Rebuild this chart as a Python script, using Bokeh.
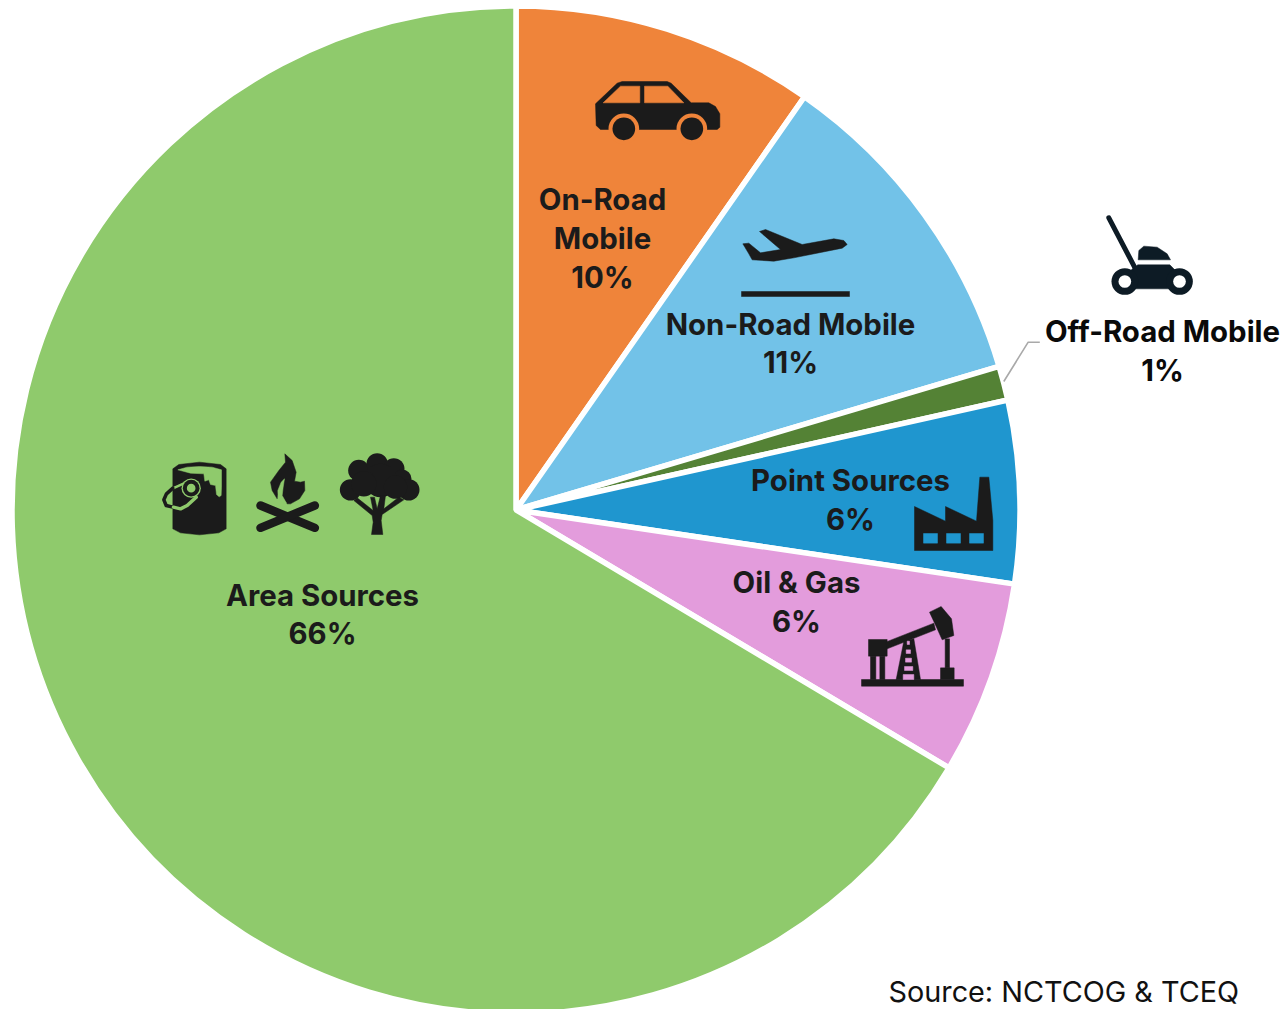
from math import pi
import numpy as np
from bokeh.plotting import figure
from bokeh.models import Range1d, ColumnDataSource
from bokeh.core.properties import value
from bokeh.embed import file_html
from bokeh.resources import INLINE

# ---------- data ----------
categories = ["On-Road Mobile", "Non-Road Mobile", "Off-Road Mobile", "Point Sources", "Oil & Gas", "Area Sources"]
shares = [9.7, 10.7, 1.1, 5.85, 6.2, 66.45]
share_labels = ["10%", "11%", "1%", "6%", "6%", "66%"]
colors = ["#EF843A", "#72C2E8", "#548235", "#1F96CF", "#E39CDC", "#8FCA6C"]
source_text = "Source: NCTCOG & TCEQ"

# ---------- frame: coordinates below are the picture's pixels ----------
W, H = 1284, 1009
X = lambda px: px
Y = lambda py: H - py

p = figure(width=W, height=H, output_backend="svg", toolbar_location=None,
           x_range=Range1d(0, W), y_range=Range1d(0, H),
           x_axis_type=None, y_axis_type=None, min_border=0,
           outline_line_color=None, background_fill_color="white")
p.grid.visible = False

# ---------- pie ----------
cx, cy, radius = 515.5, 509.5, 504
ends = np.cumsum(shares) / sum(shares) * 2 * pi
starts = np.concatenate(([0], ends[:-1]))
src = ColumnDataSource(dict(
    category=categories, color=colors,
    start=pi / 2 - starts, end=pi / 2 - ends,
))
p.wedge(x=X(cx), y=Y(cy), radius=radius, start_angle="start", end_angle="end",
        direction="clock", fill_color="color", line_color="white", line_width=5.5, source=src)

# leader line
p.line([X(1003.3), X(1027.7), X(1039.3)], [Y(381), Y(341.7), Y(341.7)], line_color="#A9A9A9", line_width=1.6)

# ---------- icons ----------
DARK = "#1B1B1B"
def zp(pts, ox, oy):
    return [X(ox + a / 3) for a, b in pts], [Y(oy + b / 3) for a, b in pts]
def poly(pts, ox, oy, color=DARK):
    xs, ys = zp(pts, ox, oy)
    p.patch(xs, ys, fill_color=color, line_color=color, line_width=0.5)
def rect(x0, y0, x1, y1, ox, oy, color=DARK):
    poly([(x0, y0), (x1, y0), (x1, y1), (x0, y1)], ox, oy, color)
def disc(a, b, r, ox, oy, color=DARK):
    p.circle(x=[X(ox + a / 3)], y=[Y(oy + b / 3)], radius=r / 3, fill_color=color, line_color=None)
def stroke(pts, w, ox, oy, color=DARK):
    xs, ys = zp(pts, ox, oy)
    p.line(xs, ys, line_color=color, line_width=w, line_cap="round", line_join="round")

# paint can
o = (150, 440); GREEN = colors[5]
poly([(67,85),(85,72),(147,65),(210,72),(227,85),(227,265),(205,277),(147,283),(90,277),(67,265)], *o)
poly([(82,88),(110,80),(147,78),(185,80),(213,88),(213,140),(212,165),(206,169),(198,162),(195,135),(180,132),(175,118),(163,122),(160,100),(120,98)], *o, GREEN)
stroke([(102,128),(69,143)], 2.5, *o, GREEN)
stroke([(67,143),(48,160),(40,178),(47,195),(67,200)], 3.5, *o)
stroke([(69,200),(90,205),(110,195),(137,170)], 3.5, *o, GREEN)
disc(122, 143, 29, *o, GREEN)
disc(122, 143, 25, *o)
disc(122, 143, 13, *o, GREEN)

# camp fire
o = (150, 440)
stroke([(330,195),(493,262)], 8.5, *o)
stroke([(330,262),(493,195)], 8.5, *o)
poly([(403,40),(425,60),(437,95),(432,122),(450,125),(462,122),(463,150),(447,175),(420,190),(410,190),(395,170),(385,150),(380,175),(365,150),(360,125),(385,90),(405,65)], *o)
poly([(383,175),(382,150),(392,125),(402,115),(398,140),(395,165),(408,188),(398,188)], *o, GREEN)

# tree
o = (150, 440)
for a, b, r in [(625,90,32),(680,70,32),(730,85,32),(755,115,28),(775,148,32),(600,148,32),(690,120,50),(640,130,38),(735,140,35)]:
    disc(a, b, r, *o)
poly([(663,282),(697,282),(692,240),(695,222),(760,178),(745,170),(700,205),(705,165),(690,165),(680,205),(672,170),(660,170),(668,210),(620,172),(610,180),(665,225),(668,245)], *o)

# car
o = (580, 70); ORANGE = colors[0]
poly([(45,100),(110,38),(125,33),(260,33),(272,38),(332,97),(385,97),(405,108),(418,130),(418,170),(410,177),(60,177),(47,165)], *o)
poly([(68,97),(120,47),(178,47),(178,97)], *o, ORANGE)
poly([(192,47),(262,47),(310,97),(192,97)], *o, ORANGE)
for a in (130, 334):
    disc(a, 175, 46, *o, ORANGE)
    disc(a, 175, 34, *o)

# aeroplane
o = (580, 70)
poly([(487,520),(505,518),(540,547),(600,537),(537,483),(555,477),(665,522),(760,505),(790,510),(800,522),(785,533),(640,562),(580,572),(515,568),(505,550)], *o)
rect(483, 663, 807, 678, *o)

# lawn mower
o = (990, 205); NAVY = "#0D1B25"
stroke([(355,37),(435,190)], 5, *o, NAVY)
poly([(443,163),(445,135),(460,122),(500,125),(530,145),(540,163)], *o, NAVY)
poly([(420,195),(442,178),(538,178),(555,195),(555,250),(425,250)], *o, NAVY)
for a in (403, 567):
    disc(a, 228, 40, *o, NAVY)
    disc(a, 228, 19, *o, "white")

# factory
o = (850, 470); BLUE = colors[3]
poly([(192,240),(192,108),(285,152),(285,108),(378,152),(388,20),(415,20),(427,150),(427,240)], *o)
for a in (219, 288, 357):
    rect(a, 189, a + 42, 218, *o, BLUE)

# pump jack
o = (850, 470); PINK = colors[4]
rect(33, 627, 339, 647, *o)
rect(54, 507, 110, 557, *o)
rect(60, 557, 76, 627, *o)
rect(88, 557, 103, 627, *o)
poly([(105,515),(250,458),(255,478),(110,535)], *o)
poly([(237,425),(272,408),(303,445),(310,495),(275,508),(258,470)], *o)
rect(284, 505, 297, 592, *o)
rect(270, 592, 311, 627, *o)
poly([(137,627),(160,512),(190,505),(210,627)], *o)
rect(158, 612, 190, 627, *o, PINK)
rect(162, 588, 187, 600, *o, PINK)
rect(165, 563, 183, 575, *o, PINK)
rect(167, 538, 180, 549, *o, PINK)
rect(170, 512, 177, 522, *o, PINK)

# ---------- labels ----------
line_texts = ["On-Road", "Mobile", share_labels[0],
              categories[1], share_labels[1],
              categories[2], share_labels[2],
              categories[3], share_labels[3],
              categories[4], share_labels[4],
              categories[5], share_labels[5]]
line_x = [602, 602, 602, 790, 790, 1162, 1162, 850, 850, 796, 796, 322, 322]
line_y = [199, 238, 277, 324, 362, 331, 370, 480, 519, 582, 621, 595, 633]
line_c = [DARK] * 5 + ["#0A0A0A"] * 2 + [DARK] * 6
p.text(x=[X(v) for v in line_x], y=[Y(v) for v in line_y], text=line_texts, text_color=line_c,
       text_font=value("Inter"), text_font_style="bold", text_font_size="29.4px",
       text_align="center", text_baseline="middle")
p.text(x=[X(888)], y=[Y(990.5)], text=[source_text], text_color="#111111",
       text_font=value("Inter"), text_font_size="28.8px",
       text_align="left", text_baseline="middle")

open("out.html", "w").write(file_html(p, INLINE))
